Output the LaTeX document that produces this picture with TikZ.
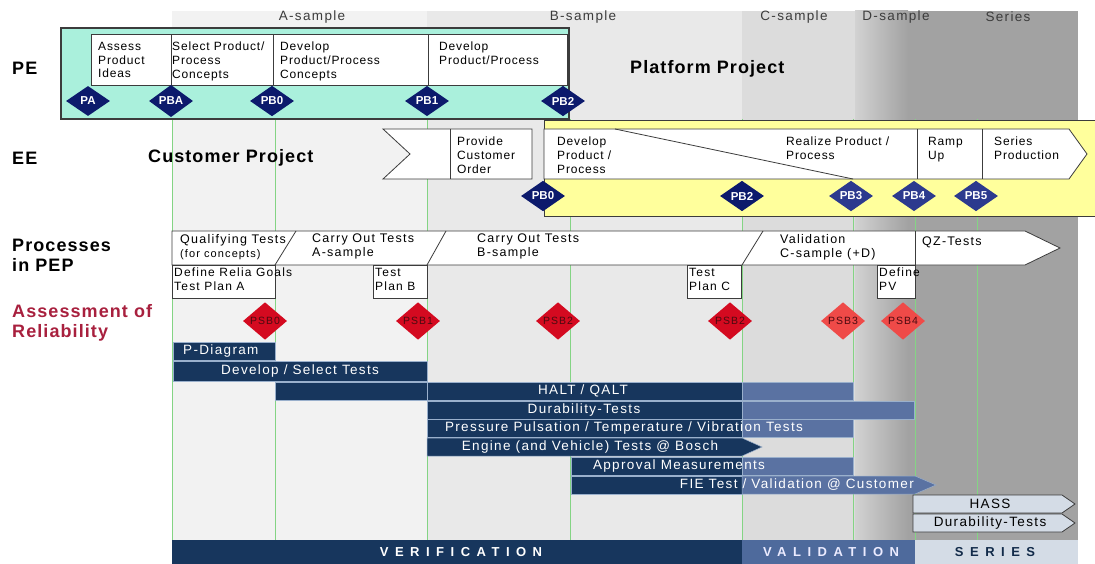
\documentclass[tikz,border=0pt]{standalone}
\usepackage{fontspec}
\setmainfont{Liberation Sans}
\newfontfamily\txtf[LetterSpace=10]{Liberation Sans}
\newfontfamily\boxf[LetterSpace=7]{Liberation Sans}
\newfontfamily\headf[LetterSpace=6]{Liberation Sans}
\newfontfamily\bandf[LetterSpace=50]{Liberation Sans}
\usetikzlibrary{shapes.geometric}

\definecolor{colA}{HTML}{F2F2F2}
\definecolor{colB}{HTML}{E9E9E9}
\definecolor{colC}{HTML}{DCDCDC}
\definecolor{colD}{HTML}{D2D2D2}
\definecolor{colS}{HTML}{A2A2A2}
\definecolor{gridgreen}{HTML}{84D484}
\definecolor{peteal}{HTML}{AAF0DC}
\definecolor{eeyellow}{HTML}{FFFF9C}
\definecolor{outline}{HTML}{3C3C3C}
\definecolor{msnavy}{HTML}{0C1A6C}
\definecolor{mslight}{HTML}{2C3A8E}
\definecolor{psbred}{HTML}{D40A20}
\definecolor{psblight}{HTML}{EF4A48}
\definecolor{psbtext}{HTML}{4A0A10}
\definecolor{barnavy}{HTML}{17365D}
\definecolor{barlight}{HTML}{5A72A2}
\definecolor{barline}{HTML}{9AB0CC}
\definecolor{serfill}{HTML}{D4DCE6}
\definecolor{relred}{HTML}{A8203E}
\definecolor{validband}{HTML}{4E6A9C}
\definecolor{samplegray}{HTML}{3C3C3C}

\tikzset{
  ms/.style={diamond, fill=msnavy, text=white, minimum width=44pt, minimum height=30pt,
    inner sep=0pt, font=\bfseries\fontsize{11.5}{12}\selectfont},
  mslt/.style={ms, fill=mslight},
  psb/.style={diamond, fill=psbred, text=psbtext, minimum width=44pt, minimum height=32pt,
    inner sep=0pt, font=\txtf\fontsize{10.5}{12}\selectfont},
  psblt/.style={psb, fill=psblight},
  head/.style={anchor=west, inner sep=0pt, align=left,
    font=\headf\bfseries\fontsize{18}{20}\selectfont},
  sample/.style={inner sep=0pt, text=samplegray, font=\txtf\fontsize{13.5}{15}\selectfont},
  boxtxt/.style={anchor=north west, inner sep=0pt, align=left,
    font=\boxf\fontsize{12}{13.7}\selectfont},
  stptxt/.style={anchor=north west, inner sep=0pt, align=left,
    font=\txtf\fontsize{12.5}{14}\selectfont},
  smalltxt/.style={anchor=north west, inner sep=0pt, align=left,
    font=\txtf\fontsize{11}{12}\selectfont},
  plantxt/.style={anchor=north west, inner sep=0pt, align=left,
    font=\txtf\fontsize{12}{14}\selectfont},
  bartxt/.style={inner sep=0pt, text=white, font=\txtf\fontsize{13.5}{15}\selectfont},
  bandtxt/.style={inner sep=0pt, font=\bandf\bfseries\fontsize{13}{15}\selectfont},
  whitebox/.style={draw=outline, fill=white, line width=0.8pt},
  bar/.style={fill=barnavy, draw=barline, line width=0.5pt},
  barl/.style={fill=barlight, draw=barline, line width=0.5pt},
  grid/.style={draw=gridgreen, line width=1pt},
}

\begin{document}
\begin{tikzpicture}[x=1pt,y=-1pt]
\useasboundingbox (0,0) rectangle (1095,564);

% sample phase columns
\fill[colA] (172,11) rectangle (427,540);
\fill[colB] (427,11) rectangle (742,540);
\fill[colC] (742,11) rectangle (855,540);
\shade[left color=colD, right color=colS] (855,11) rectangle (908,540);
\fill[colS] (908,11) rectangle (1078,540);

% milestone grid lines
\foreach \gx in {172,275,427,570,742,853,915,977}
  \draw[grid] (\gx,119) -- (\gx,540);

% phase names
\node[sample] (sa) at (312,17) {A-sample};
\node[sample] (sb) at (583,17) {B-sample};
\node[sample] (sc) at (794,17) {C-sample};
\node[sample] (sd) at (896,17) {D-sample};
\node[sample] (ss) at (1008,17) {Series};

% ---------- PE: platform project ----------
\draw[draw=outline, fill=peteal, line width=1.2pt] (61,28) rectangle (569,119);
\draw[whitebox] (91,34) rectangle (171,85);
\draw[whitebox] (171,34) rectangle (273,85);
\draw[whitebox] (273,34) rectangle (428,85);
\draw[whitebox] (428,34) rectangle (567,85);
\node[boxtxt] (pe1) at (98,42) {Assess\\Product\\Ideas};
\node[boxtxt] (pe2) at (172,42) {Select Product/\\Process\\Concepts};
\node[boxtxt] (pe3) at (280,42) {Develop\\Product/Process\\Concepts};
\node[boxtxt] (pe4) at (439,42) {Develop\\Product/Process};

\node[ms] (pa)   at (88,101)  {PA};
\node[ms] (pba)  at (171,101) {PBA};
\node[ms] (pbz)  at (272,101) {PB0};
\node[ms] (pb1)  at (427,101) {PB1};
\node[ms] (pb2)  at (563,101) {PB2};

\node[head] (pe) at (12,68) {PE};
\node[head] (plat) at (630,69) {Platform Project};

% ---------- EE: customer project ----------
\fill[eeyellow] (544,121) rectangle (1095,217);
\draw[outline, line width=1pt] (1095,121) -- (544,121) -- (544,217) -- (1095,217);

\draw[whitebox] (383,129) -- (532,129) -- (532,179) -- (383,179) -- (410,154) -- cycle;
\draw[outline, line width=0.8pt] (450,129) -- (450,179);
\node[boxtxt] (order) at (457,137) {Provide\\Customer\\Order};

\draw[whitebox] (544,129) -- (1069,129) -- (1087,154) -- (1069,179) -- (544,179) -- cycle;
\draw[outline, line width=0.8pt] (917,129) -- (917,179);
\draw[outline, line width=0.8pt] (982,129) -- (982,179);
\coordinate (diagtop) at (615,129);
\coordinate (diagbot) at (853,179);
\draw[outline, line width=0.8pt] (diagtop) -- (diagbot);
\node[boxtxt] (ee1) at (557,137) {Develop\\Product /\\Process};
\node[boxtxt] (ee2) at (786,137) {Realize Product /\\Process};
\node[boxtxt] (ee3) at (928,137) {Ramp\\Up};
\node[boxtxt] (ee4) at (994,137) {Series\\Production};

\node[ms]   (epb0) at (543,196) {PB0};
\node[ms]   (epb2) at (742,196) {PB2};
\node[mslt] (epb3) at (851,196) {PB3};
\node[mslt] (epb4) at (914,196) {PB4};
\node[mslt] (epb5) at (976,196) {PB5};

\node[head] (ee) at (12,158) {EE};
\node[head] (cust) at (148,158) {Customer Project};

% ---------- processes in PEP ----------
\draw[whitebox] (172,231) -- (1025,231) -- (1060,248) -- (1025,265) -- (172,265) -- cycle;
\draw[outline, line width=0.8pt] (296,231) -- (275,265);
\draw[outline, line width=0.8pt] (446,231) -- (427,265);
\draw[outline, line width=0.8pt] (763,231) -- (742,265);
\draw[outline, line width=0.8pt] (915,231) -- (915,265);
\node[stptxt] (q1) at (180,234) {Qualifying Tests};
\node[smalltxt] (q2) at (180,249) {(for concepts)};
\node[stptxt] (coa) at (312,234) {Carry Out Tests\\A-sample};
\node[stptxt] (cob) at (477,234) {Carry Out Tests\\B-sample};
\node[stptxt] (val) at (780,234) {Validation\\C-sample (+D)};
\node[stptxt] (qz) at (922,237) {QZ-Tests};

\draw[whitebox] (172,265) rectangle (275,298);
\draw[whitebox] (373,265) rectangle (427,298);
\draw[whitebox] (687,265) rectangle (741,298);
\draw[whitebox] (877,265) rectangle (915,298);
\node[plantxt] (tpa) at (174,268) {Define Relia Goals\\Test Plan A};
\node[plantxt] (tpb) at (375,268) {Test\\Plan B};
\node[plantxt] (tpc) at (689,268) {Test\\Plan C};
\node[plantxt] (dpv) at (879,268) {Define\\PV};

\node[head] (proc) at (12,255) {Processes\\in PEP};

% ---------- assessment of reliability ----------
\node[head, text=relred] (assess) at (12,323) {Assessment of\\Reliability};

\node[psb]   (psb0)  at (265,321) {PSB0};
\node[psb]   (psb1)  at (418,321) {PSB1};
\node[psb]   (psb2a) at (558,321) {PSB2};
\node[psb]   (psb2b) at (730,321) {PSB2};
\node[psblt] (psb3)  at (843,321) {PSB3};
\node[psblt] (psb4)  at (903,321) {PSB4};

% test activity bars
\path[bar] (173,342) rectangle (275,360);
\node[bartxt, anchor=west] (pdia) at (183,351) {P-Diagram};

\path[bar] (173,361) rectangle (427,381);
\node[bartxt] (devsel) at (300,371) {Develop / Select Tests};

\path[bar] (275,382) rectangle (427,400);
\path[bar] (427,382) rectangle (742,400);
\path[barl] (742,382) rectangle (853,400);
\node[bartxt] (halt) at (583,391) {HALT / QALT};

\path[bar] (427,401) rectangle (742,419);
\path[barl] (742,401) rectangle (914,419);
\node[bartxt] (dur) at (584,410) {Durability-Tests};

\path[bar] (427,419) rectangle (742,437);
\path[barl] (742,419) rectangle (853,437);
\node[bartxt] (press) at (624,428) {Pressure Pulsation / Temperature / Vibration Tests};

\path[bar] (427,438) -- (742,438) -- (762,447) -- (742,456) -- (427,456) -- cycle;
\node[bartxt] (engine) at (590,447) {Engine (and Vehicle) Tests @ Bosch};

\path[bar] (571,457) rectangle (742,475);
\path[barl] (742,457) rectangle (853,475);
\node[bartxt] (appr) at (679,466) {Approval Measurements};

\path[bar] (571,476) rectangle (742,494);
\path[barl] (742,476) -- (915,476) -- (936,485) -- (915,494) -- (742,494) -- cycle;
\node[bartxt, anchor=east] (fie) at (914,485) {FIE Test / Validation @ Customer};

\draw[fill=serfill, draw=outline, line width=0.8pt]
  (913,495) -- (1062,495) -- (1075,504) -- (1062,513) -- (913,513) -- cycle;
\node[bartxt, text=black] (hass) at (990,504) {HASS};
\draw[fill=serfill, draw=outline, line width=0.8pt]
  (913,514) -- (1062,514) -- (1075,523) -- (1062,532) -- (913,532) -- cycle;
\node[bartxt, text=black] (sdur) at (990,523) {Durability-Tests};

% ---------- bottom phase band ----------
\fill[barnavy] (172,540) rectangle (742,564);
\fill[validband] (742,540) rectangle (915,564);
\fill[serfill] (915,540) rectangle (1078,564);
\node[bandtxt, text=white] (verif) at (461,552) {VERIFICATION};
\node[bandtxt, text=white!92!blue] (valid) at (831,552) {VALIDATION};
\node[bandtxt, text=barnavy!80!black] (series) at (995,552) {SERIES};
\end{tikzpicture}
\end{document}
